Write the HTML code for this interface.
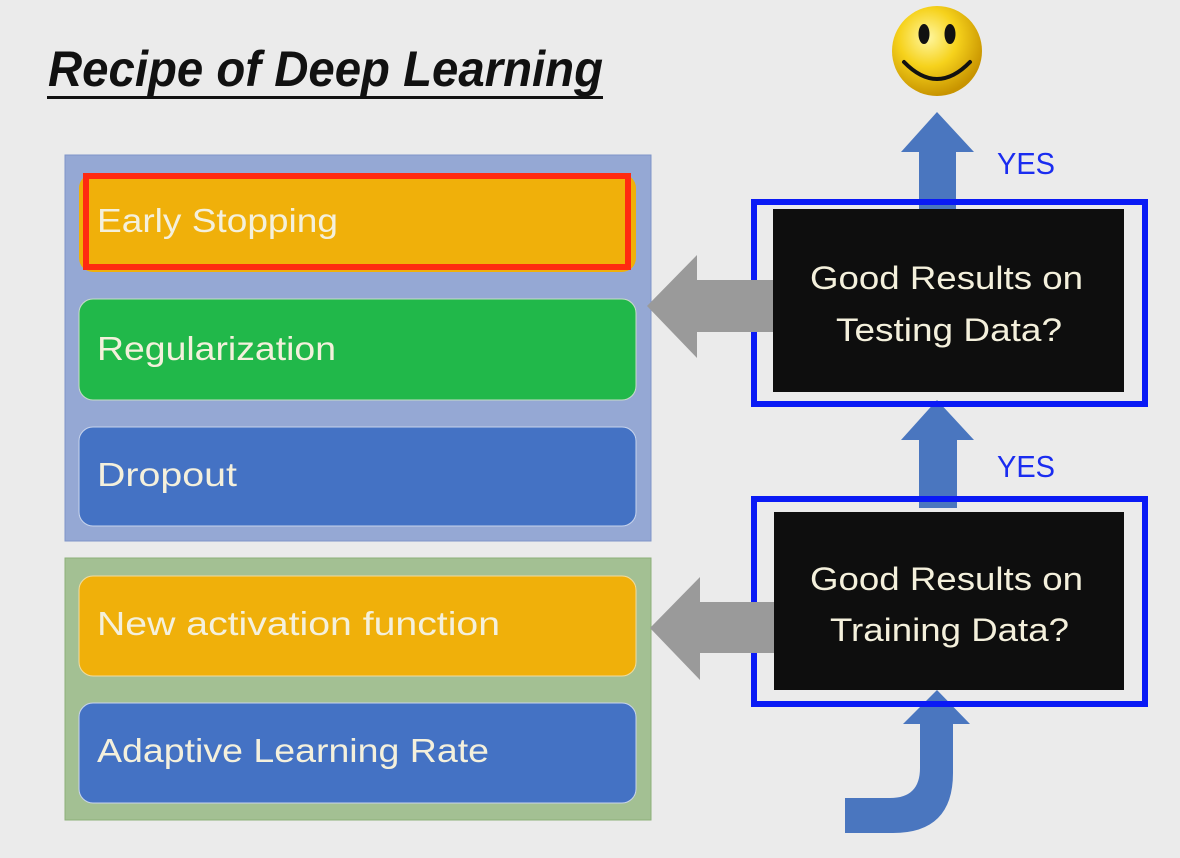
<!DOCTYPE html>
<html><head><meta charset="utf-8"><style>
html,body{margin:0;padding:0;background:#ebebeb;}
svg{display:block;}
</style></head><body>
<svg width="1180" height="858" viewBox="0 0 1180 858" xmlns="http://www.w3.org/2000/svg">
<defs>
<radialGradient id="sm" cx="40%" cy="35%" r="65%">
<stop offset="0" stop-color="#fff7a0"/><stop offset="0.5" stop-color="#f6d21c"/><stop offset="1" stop-color="#c89400"/>
</radialGradient>
</defs>
<rect width="1180" height="858" fill="#ebebeb"/>
<!-- Title -->
<text x="48" y="86" font-family="Liberation Sans, sans-serif" font-weight="bold" font-style="italic" font-size="50" fill="#111" textLength="555" lengthAdjust="spacingAndGlyphs">Recipe of Deep Learning</text>
<rect x="47" y="96" width="556" height="3" fill="#111"/>

<!-- Left panels -->
<rect x="65" y="155" width="586" height="386" fill="#95a8d4" stroke="#7f95c8" stroke-width="1"/>
<rect x="65" y="558" width="586" height="262" fill="#a3c093" stroke="#8db07a" stroke-width="1"/>

<rect x="79" y="174" width="557" height="98" rx="14" fill="#f0b00a"/>
<rect x="86" y="176" width="542" height="91" fill="none" stroke="#ff2a10" stroke-width="6"/>
<rect x="79" y="299" width="557" height="101" rx="14" fill="#21b84a" stroke="#c8dcc8" stroke-width="1"/>
<rect x="79" y="427" width="557" height="99" rx="14" fill="#4472c4" stroke="#c8d4ec" stroke-width="1"/>
<rect x="79" y="576" width="557" height="100" rx="14" fill="#f0b00a" stroke="#f0dca0" stroke-width="1"/>
<rect x="79" y="703" width="557" height="100" rx="14" fill="#4472c4" stroke="#c8d4ec" stroke-width="1"/>

<g font-family="Liberation Sans, sans-serif" font-size="33" fill="#f4f0dc" lengthAdjust="spacingAndGlyphs">
<text x="97" y="232" textLength="241" lengthAdjust="spacingAndGlyphs">Early Stopping</text>
<text x="97" y="360" textLength="239" lengthAdjust="spacingAndGlyphs">Regularization</text>
<text x="97" y="486" textLength="140" lengthAdjust="spacingAndGlyphs">Dropout</text>
<text x="97" y="635" textLength="403" lengthAdjust="spacingAndGlyphs">New activation function</text>
<text x="97" y="762" textLength="392" lengthAdjust="spacingAndGlyphs">Adaptive Learning Rate</text>
</g>

<!-- Smiley -->
<circle cx="937" cy="51" r="45" fill="url(#sm)"/>
<ellipse cx="924" cy="34" rx="5.5" ry="10" fill="#111"/>
<ellipse cx="950" cy="34" rx="5.5" ry="10" fill="#111"/>
<path d="M904,62 Q937,96 970,62" fill="none" stroke="#111" stroke-width="4" stroke-linecap="round"/>

<!-- Blue up arrows -->
<path d="M919,210 L919,152 L901,152 L937,112 L974,152 L956,152 L956,210 Z" fill="#4a76bf"/>
<path d="M919,508 L919,440 L901,440 L937,400 L974,440 L957,440 L957,508 Z" fill="#4a76bf"/>
<path d="M845,798 L890,798 Q920,798 920,768 L920,724 L903,724 L937,690 L970,724 L953,724 L953,773 Q953,833 893,833 L845,833 Z" fill="#4a76bf"/>

<!-- Frames -->
<rect x="754" y="202" width="391" height="202" fill="none" stroke="#0a1af5" stroke-width="6"/>
<rect x="754" y="499" width="391" height="205" fill="none" stroke="#0a1af5" stroke-width="6"/>
<rect x="773" y="209" width="351" height="183" fill="#0e0e0e"/>
<rect x="774" y="512" width="350" height="178" fill="#0e0e0e"/>

<!-- Gray arrows -->
<path d="M773,280 L697,280 L697,255 L647,306 L697,358 L697,332 L773,332 Z" fill="#9a9a9a"/>
<path d="M774,602 L700,602 L700,577 L650,628 L700,680 L700,653 L774,653 Z" fill="#9a9a9a"/>

<g font-family="Liberation Sans, sans-serif" font-size="32" fill="#f4f0dc">
<text x="810" y="289" textLength="273" lengthAdjust="spacingAndGlyphs">Good Results on</text>
<text x="836" y="341" textLength="226" lengthAdjust="spacingAndGlyphs">Testing Data?</text>
<text x="810" y="590" textLength="273" lengthAdjust="spacingAndGlyphs">Good Results on</text>
<text x="830" y="641" textLength="239" lengthAdjust="spacingAndGlyphs">Training Data?</text>
</g>
<g font-family="Liberation Sans, sans-serif" font-size="31" fill="#1a2cf0">
<text x="997" y="174" textLength="58" lengthAdjust="spacingAndGlyphs">YES</text>
<text x="997" y="477" textLength="58" lengthAdjust="spacingAndGlyphs">YES</text>
</g>
</svg>
</body></html>
